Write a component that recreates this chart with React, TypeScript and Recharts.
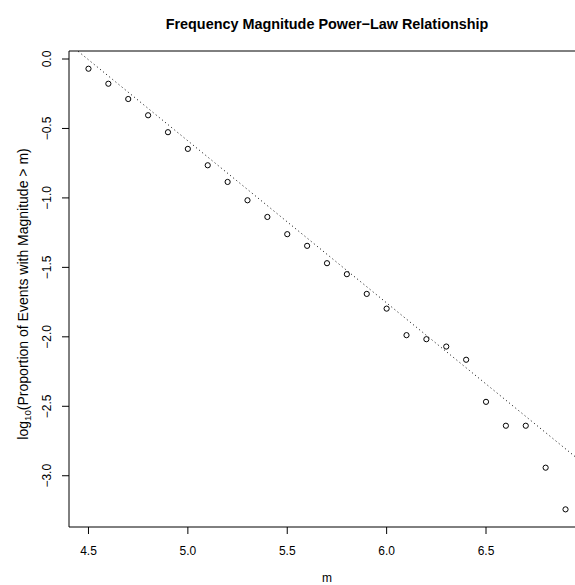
import React from "react";
import {
  ComposedChart,
  XAxis,
  YAxis,
  Scatter,
  Line,
  ReferenceArea,
} from "recharts";

// ---- data ----
const magnitudes = [
  4.5, 4.6, 4.7, 4.8, 4.9, 5.0, 5.1, 5.2, 5.3, 5.4, 5.5, 5.6, 5.7, 5.8, 5.9,
  6.0, 6.1, 6.2, 6.3, 6.4, 6.5, 6.6, 6.7, 6.8, 6.9,
];
const logProportion = [
  -0.07, -0.178, -0.288, -0.405, -0.527, -0.647, -0.765, -0.885, -1.017,
  -1.137, -1.261, -1.345, -1.47, -1.549, -1.691, -1.797, -1.988, -2.017,
  -2.07, -2.165, -2.468, -2.64, -2.64, -2.942, -3.242,
];
const xTicks = [4.5, 5.0, 5.5, 6.0, 6.5];
const yTicks = [0, -0.5, -1.0, -1.5, -2.0, -2.5, -3.0];

// fitted power-law line (abline): log10 P = a + b * m
const fitIntercept = 5.246;
const fitSlope = -1.167;

const xDomain: [number, number] = [4.402, 6.998];
const yDomain: [number, number] = [-3.369, 0.0576];

const points = magnitudes.map((m, i) => ({ m, logp: logProportion[i] }));
const fitLine = xDomain.map((m) => ({ m, fit: fitIntercept + fitSlope * m }));

const FONT = "'Liberation Sans', Arial, Helvetica, sans-serif";

const fmt = (v: number) => v.toFixed(1).replace("-", "\u2212");

const XTick = (props: any) => {
  const { x, payload } = props;
  return (
    <text x={x} y={555} textAnchor="middle" fontSize={12} fontFamily={FONT} fill="#000">
      {fmt(payload.value)}
    </text>
  );
};

const YTick = (props: any) => {
  const { y, payload } = props;
  const bx = 51.3;
  return (
    <text
      x={bx}
      y={y}
      transform={`rotate(-90, ${bx}, ${y})`}
      textAnchor="middle"
      fontSize={12}
      fontFamily={FONT}
      fill="#000"
    >
      {fmt(payload.value)}
    </text>
  );
};

const Circle = (props: any) => {
  const { cx, cy } = props;
  return <circle cx={cx} cy={cy} r={2.6} fill="none" stroke="#000" strokeWidth={1} />;
};

export default function App() {
  return (
    <div
      style={{
        position: "absolute",
        left: 0,
        top: 0,
        width: 575,
        height: 585,
        overflow: "hidden",
        background: "#fff",
      }}
    >
      <ComposedChart
        width={600}
        height={585}
        margin={{ top: 51, right: 15, bottom: 0, left: 0 }}
      >
        <XAxis
          type="number"
          dataKey="m"
          domain={xDomain}
          ticks={xTicks}
          allowDataOverflow
          height={58}
          tickSize={7}
          axisLine={false}
          tickLine={{ stroke: "#000" }}
          tick={<XTick />}
          interval={0}
        />
        <YAxis
          type="number"
          domain={yDomain}
          ticks={yTicks}
          allowDataOverflow
          width={69}
          tickSize={7}
          axisLine={false}
          tickLine={{ stroke: "#000" }}
          tick={<YTick />}
          interval={0}
        />
        <ReferenceArea
          x1={xDomain[0]}
          x2={xDomain[1]}
          y1={yDomain[0]}
          y2={yDomain[1]}
          fill="none"
          stroke="#000"
          strokeWidth={1}
          ifOverflow="visible"
        />
        <Line
          data={fitLine}
          dataKey="fit"
          stroke="#000"
          strokeWidth={1}
          strokeDasharray="1 3"
          dot={false}
          activeDot={false}
          isAnimationActive={false}
        />
        <Scatter
          data={points}
          dataKey="logp"
          shape={<Circle />}
          isAnimationActive={false}
        />
      </ComposedChart>
      <svg
        width={575}
        height={585}
        style={{ position: "absolute", left: 0, top: 0, pointerEvents: "none" }}
      >
        <text
          x={327}
          y={28.5}
          textAnchor="middle"
          fontSize={14.4}
          fontWeight="bold"
          fontFamily={FONT}
          fill="#000"
        >
          Frequency Magnitude Power{"\u2212"}Law Relationship
        </text>
        <text x={327} y={582} textAnchor="middle" fontSize={12} fontFamily={FONT} fill="#000">
          m
        </text>
        <text
          x={28}
          y={294}
          transform="rotate(-90, 28, 294)"
          textAnchor="middle"
          fontSize={14}
          fontFamily={FONT}
          fill="#000"
        >
          log
          <tspan fontSize={9.8} dy={3}>
            10
          </tspan>
          <tspan dy={-3}>(Proportion of Events with Magnitude &gt; m)</tspan>
        </text>
      </svg>
    </div>
  );
}
